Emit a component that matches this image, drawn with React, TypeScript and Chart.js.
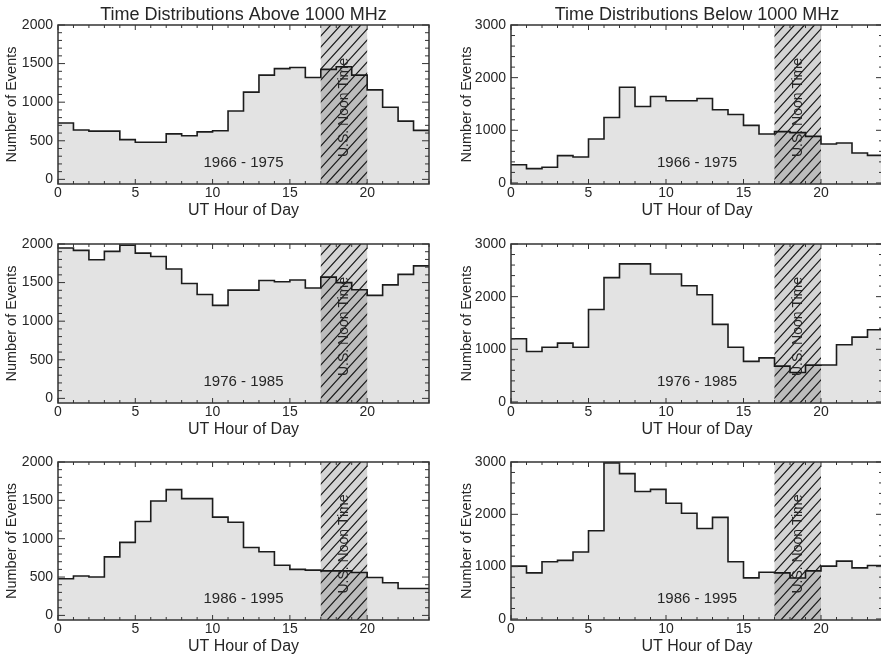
import React, { useEffect, useRef } from 'react';
import { Chart, registerables } from 'chart.js';

Chart.register(...registerables);

// ---------------- data ----------------
const HOURS = [0, 1, 2, 3, 4, 5, 6, 7, 8, 9, 10, 11, 12, 13, 14, 15, 16, 17, 18, 19, 20, 21, 22, 23];
const HOUR_END = 24;
const X_TICKS = [0, 5, 10, 15, 20];
const X_MINOR = [0, 1, 2, 3, 4, 5, 6, 7, 8, 9, 10, 11, 12, 13, 14, 15, 16, 17, 18, 19, 20, 21, 22, 23, 24];
const Y_TICKS_ABOVE = [0, 500, 1000, 1500, 2000];
const Y_TICKS_BELOW = [0, 1000, 2000, 3000];
const NOON_START = 17;
const NOON_END = 20;

const TITLE_ABOVE = 'Time Distributions Above 1000 MHz';
const TITLE_BELOW = 'Time Distributions Below 1000 MHz';
const YEARS = ['1966 - 1975', '1976 - 1985', '1986 - 1995'];

const ABOVE_1966 = [730, 640, 625, 625, 515, 480, 480, 590, 565, 615, 630, 885, 1130, 1350, 1435, 1450, 1320, 1425, 1460, 1350, 1160, 935, 755, 635];
const BELOW_1966 = [347, 272, 297, 518, 493, 834, 1244, 1819, 1453, 1642, 1560, 1560, 1604, 1390, 1301, 1093, 929, 975, 955, 884, 740, 758, 569, 524];
const ABOVE_1976 = [1948, 1917, 1795, 1904, 1983, 1882, 1838, 1677, 1489, 1345, 1205, 1402, 1402, 1528, 1511, 1533, 1430, 1571, 1500, 1408, 1335, 1470, 1607, 1716];
const BELOW_1976 = [1200, 957, 1040, 1117, 1040, 1755, 2361, 2623, 2623, 2431, 2431, 2208, 2036, 1474, 1040, 770, 837, 680, 560, 700, 702, 1085, 1232, 1372];
const ABOVE_1986 = [478, 513, 500, 763, 952, 1224, 1491, 1640, 1522, 1522, 1281, 1215, 886, 829, 654, 600, 590, 580, 580, 560, 495, 425, 350, 350];
const BELOW_1986 = [1010, 881, 1093, 1119, 1280, 1685, 2984, 2778, 2437, 2476, 2212, 2019, 1730, 1942, 1093, 785, 894, 880, 784, 919, 1010, 1106, 977, 1022];

// ---------------- styling / layout ----------------
const FONT = '"Liberation Sans", Arial, Helvetica, sans-serif';
const TEXT = '#262626';
const FILL = '#e3e3e3';
const LINE = '#1c1c1c';

type PanelCfg = {
  key: string;
  values: number[];
  years: string;
  title?: string;
  yMin: number;
  yMax: number;
  yTicks: number[];
  yMinorStep: number;
  left: number;
  top: number;
  width: number;
  height: number;
  plotTop: number;
  plotBottom: number;
  plotRight: number;
  yAxisWidth: number;
  yTitlePad: number;
};

const LEFT_COL = { left: 0, width: 440, plotRight: 429, yAxisWidth: 58, yTitlePad: 3 };
const RIGHT_COL = { left: 440, width: 450, plotRight: 883, yAxisWidth: 71, yTitlePad: 18 };
const ROWS = [
  { top: 0, height: 220, plotTop: 25, plotBottom: 184 },
  { top: 220, height: 220, plotTop: 244, plotBottom: 403 },
  { top: 440, height: 218, plotTop: 462, plotBottom: 620 },
];

const ABOVE_SCALE = { yMin: -60, yMax: 2000, yTicks: Y_TICKS_ABOVE, yMinorStep: 100 };
const BELOW_SCALE = { yMin: -20, yMax: 3000, yTicks: Y_TICKS_BELOW, yMinorStep: 200 };

const PANELS: PanelCfg[] = [
  { key: 'a66', values: ABOVE_1966, years: YEARS[0], title: TITLE_ABOVE, ...ABOVE_SCALE, ...LEFT_COL, ...ROWS[0] },
  { key: 'b66', values: BELOW_1966, years: YEARS[0], title: TITLE_BELOW, ...BELOW_SCALE, ...RIGHT_COL, ...ROWS[0] },
  { key: 'a76', values: ABOVE_1976, years: YEARS[1], ...ABOVE_SCALE, ...LEFT_COL, ...ROWS[1] },
  { key: 'b76', values: BELOW_1976, years: YEARS[1], ...BELOW_SCALE, ...RIGHT_COL, ...ROWS[1] },
  { key: 'a86', values: ABOVE_1986, years: YEARS[2], ...ABOVE_SCALE, ...LEFT_COL, ...ROWS[2] },
  { key: 'b86', values: BELOW_1986, years: YEARS[2], ...BELOW_SCALE, ...RIGHT_COL, ...ROWS[2] },
];

const X_AXIS_HEIGHT = 36;

function makeOverlay(cfg: PanelCfg) {
  return {
    id: 'overlay_' + cfg.key,
    afterDatasetsDraw(chart: any) {
      const { ctx, chartArea: a, scales } = chart;
      const x = scales.x;
      const y = scales.y;
      const h = a.bottom - a.top;
      const bx0 = x.getPixelForValue(NOON_START);
      const bx1 = x.getPixelForValue(NOON_END);

      ctx.save();
      // shaded noon band
      ctx.fillStyle = 'rgba(0,0,0,0.17)';
      ctx.fillRect(bx0, a.top, bx1 - bx0, h);
      // hatch
      ctx.save();
      ctx.beginPath();
      ctx.rect(bx0, a.top, bx1 - bx0, h);
      ctx.clip();
      ctx.strokeStyle = '#1a1a1a';
      ctx.lineWidth = 1.2;
      const slope = 1.1;
      const run = h / slope;
      const sp = 10;
      ctx.beginPath();
      for (let sx = bx0 - run - sp; sx < bx1 + sp; sx += sp) {
        ctx.moveTo(sx, a.bottom);
        ctx.lineTo(sx + run, a.top);
      }
      ctx.stroke();
      ctx.restore();

      // U.S. Noon Time label
      ctx.save();
      ctx.translate((bx0 + bx1) / 2, (a.top + a.bottom) / 2 + 3);
      ctx.rotate(-Math.PI / 2);
      ctx.fillStyle = TEXT;
      ctx.font = `14px ${FONT}`;
      ctx.textAlign = 'center';
      ctx.textBaseline = 'middle';
      ctx.fillText('U.S. Noon Time', 0, 0);
      ctx.restore();

      // year label
      ctx.fillStyle = TEXT;
      ctx.font = `15px ${FONT}`;
      ctx.textAlign = 'center';
      ctx.textBaseline = 'middle';
      ctx.fillText(cfg.years, (a.left + a.right) / 2, a.bottom - 21);

      // title
      if (cfg.title) {
        ctx.font = `18px ${FONT}`;
        ctx.fillText(cfg.title, (a.left + a.right) / 2, a.top - 10);
      }

      // frame
      ctx.strokeStyle = '#333';
      ctx.lineWidth = 1.5;
      ctx.strokeRect(a.left, a.top, a.right - a.left, h);

      // ticks (inward, IDL style)
      ctx.lineWidth = 1;
      ctx.beginPath();
      X_MINOR.forEach((v) => {
        const px = x.getPixelForValue(v);
        const len = X_TICKS.includes(v) ? 5 : 3;
        ctx.moveTo(px, a.bottom);
        ctx.lineTo(px, a.bottom - len);
        ctx.moveTo(px, a.top);
        ctx.lineTo(px, a.top + len);
      });
      for (let v = 0; v <= cfg.yMax; v += cfg.yMinorStep) {
        const py = y.getPixelForValue(v);
        const len = cfg.yTicks.includes(v) ? 7 : 4;
        ctx.moveTo(a.left, py);
        ctx.lineTo(a.left + len, py);
        ctx.moveTo(a.right, py);
        ctx.lineTo(a.right - len, py);
      }
      ctx.stroke();
      ctx.restore();
    },
  };
}

function Panel({ cfg }: { cfg: PanelCfg }) {
  const ref = useRef<HTMLCanvasElement | null>(null);

  useEffect(() => {
    if (!ref.current) return;
    const points = HOURS.map((hr, i) => ({ x: hr, y: cfg.values[i] }));
    points.push({ x: HOUR_END, y: cfg.values[cfg.values.length - 1] });

    const chart = new Chart(ref.current, {
      type: 'line',
      data: {
        datasets: [
          {
            data: points,
            stepped: 'before',
            fill: 'start',
            backgroundColor: FILL,
            borderColor: LINE,
            borderWidth: 1.6,
            pointRadius: 0,
            tension: 0,
          } as any,
        ],
      },
      options: {
        responsive: false,
        animation: false,
        devicePixelRatio: 1,
        layout: {
          padding: {
            left: 0,
            top: cfg.plotTop - cfg.top,
            right: cfg.left + cfg.width - cfg.plotRight,
            bottom: cfg.top + cfg.height - cfg.plotBottom - X_AXIS_HEIGHT,
          },
        },
        plugins: {
          legend: { display: false },
          tooltip: { enabled: false },
          title: { display: false },
        },
        scales: {
          x: {
            type: 'linear',
            min: 0,
            max: HOUR_END,
            afterBuildTicks: (s: any) => {
              s.ticks = X_TICKS.map((v) => ({ value: v }));
            },
            afterFit: (s: any) => {
              s.height = X_AXIS_HEIGHT;
            },
            grid: { display: false, drawTicks: false },
            border: { display: false },
            ticks: {
              color: TEXT,
              font: { family: FONT, size: 14 },
              padding: 1,
              maxRotation: 0,
              autoSkip: false,
              callback: (v: any) => String(v),
            },
            title: {
              display: true,
              text: 'UT Hour of Day',
              color: TEXT,
              font: { family: FONT, size: 16 },
              padding: { top: 0, bottom: 0 },
            },
          },
          y: {
            type: 'linear',
            min: cfg.yMin,
            max: cfg.yMax,
            afterBuildTicks: (s: any) => {
              s.ticks = cfg.yTicks.map((v) => ({ value: v }));
            },
            afterFit: (s: any) => {
              s.width = cfg.yAxisWidth;
            },
            grid: { display: false, drawTicks: false },
            border: { display: false },
            ticks: {
              color: TEXT,
              font: { family: FONT, size: 14 },
              padding: 5,
              autoSkip: false,
              callback: (v: any) => String(v),
            },
            title: {
              display: true,
              text: 'Number of Events',
              color: TEXT,
              font: { family: FONT, size: 14.5 },
              padding: { top: cfg.yTitlePad, bottom: 0 },
            },
          },
        },
      } as any,
      plugins: [makeOverlay(cfg)],
    });
    return () => chart.destroy();
  }, [cfg]);

  return (
    <canvas
      ref={ref}
      width={cfg.width}
      height={cfg.height}
      style={{ position: 'absolute', left: cfg.left, top: cfg.top, width: cfg.width, height: cfg.height }}
    />
  );
}

export default function App() {
  return (
    <div
      style={{
        position: 'fixed',
        left: 0,
        top: 0,
        width: 881,
        height: 658,
        overflow: 'hidden',
        background: '#ffffff',
      }}
    >
      {PANELS.map((p) => (
        <Panel key={p.key} cfg={p} />
      ))}
    </div>
  );
}
